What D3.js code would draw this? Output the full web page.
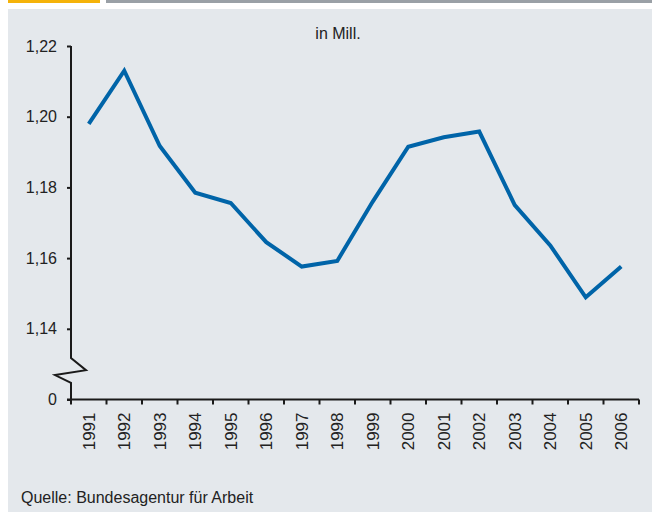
<!DOCTYPE html>
<html>
<head>
<meta charset="utf-8">
<script src="https://cdn.jsdelivr.net/npm/d3@7"></script>
<style>
  body { margin: 0; background: #fff; }
  svg { display: block; font-family: 'Liberation Sans', Arial, sans-serif; }
</style>
</head>
<body>
<svg id="chart"></svg>
<script>
const years = ['1991', '1992', '1993', '1994', '1995', '1996', '1997', '1998',
  '1999', '2000', '2001', '2002', '2003', '2004', '2005', '2006'];
const values = [1.198, 1.213, 1.1917, 1.1785, 1.1756, 1.1645, 1.1576, 1.1592,
  1.176, 1.1915, 1.1942, 1.1958, 1.175, 1.1636, 1.1489, 1.1576];
// 1.12 stands in for the broken-axis zero
const yTicks = [1.12, 1.14, 1.16, 1.18, 1.20, 1.22];
const yTickLabels = ['0', '1,14', '1,16', '1,18', '1,20', '1,22'];
const unitLabel = 'in Mill.';
const sourceLabel = 'Quelle: Bundesagentur für Arbeit';

const W = 652, H = 512;
const svg = d3.select('#chart').attr('width', W).attr('height', H);

// header bars + panel
svg.append('rect').attr('x', 8).attr('y', 0).attr('width', 92).attr('height', 3).attr('fill', '#f5b30a');
svg.append('rect').attr('x', 106).attr('y', 0).attr('width', W - 106).attr('height', 3).attr('fill', '#9aa0a6');
svg.append('rect').attr('x', 8).attr('y', 9).attr('width', W - 8).attr('height', H - 9).attr('fill', '#e4e8ec');

const x = d3.scaleBand().domain(years).range([71, 639]);
const y = d3.scaleLinear().domain([1.12, 1.22]).range([399.5, 46]);
const axisColor = '#1a1a1a';

// Y axis (ticks + labels, domain drawn by hand for the break)
const yAxis = svg.append('g')
  .attr('transform', 'translate(71,0)')
  .call(d3.axisLeft(y)
    .tickValues(yTicks)
    .tickSize(4)
    .tickPadding(10)
    .tickFormat((d, i) => yTickLabels[i]));
yAxis.select('.domain').remove();
yAxis.selectAll('line').attr('stroke', axisColor).attr('stroke-width', 2);
yAxis.selectAll('text').attr('font-size', 16).attr('fill', '#222').attr('font-family', null);

// axis line with zigzag break
const brk = d3.path();
brk.moveTo(71, y(1.22));
brk.lineTo(71, y(1.1317));
brk.lineTo(86, y(1.1283));
brk.lineTo(55, y(1.1269));
brk.lineTo(71, y(1.1247));
brk.lineTo(71, y(1.12));
svg.append('path')
  .attr('d', brk.toString())
  .attr('fill', 'none')
  .attr('stroke', axisColor)
  .attr('stroke-width', 2);

// X axis
const xAxis = svg.append('g')
  .attr('transform', 'translate(0,' + y(1.12) + ')')
  .call(d3.axisBottom(x).tickSize(0).tickPadding(0));
xAxis.select('.domain').remove();
xAxis.selectAll('text')
  .attr('font-size', 17)
  .attr('fill', '#222')
  .attr('font-family', null)
  .attr('transform', 'rotate(-90)')
  .attr('text-anchor', 'end')
  .attr('x', -13)
  .attr('y', 0)
  .attr('dy', '0.36em');

svg.append('line')
  .attr('x1', 67).attr('x2', x.range()[1])
  .attr('y1', y(1.12)).attr('y2', y(1.12))
  .attr('stroke', axisColor).attr('stroke-width', 2);

const tickPos = years.map(d => x(d)).concat([x.range()[1]]);
svg.selectAll('.xtick')
  .data(tickPos)
  .enter()
  .append('line')
  .attr('class', 'xtick')
  .attr('x1', d => d).attr('x2', d => d)
  .attr('y1', y(1.12)).attr('y2', y(1.12) + 5)
  .attr('stroke', axisColor).attr('stroke-width', 2);

// the line
svg.append('path')
  .datum(values)
  .attr('fill', 'none')
  .attr('stroke', '#0064a8')
  .attr('stroke-width', 4)
  .attr('stroke-linejoin', 'miter')
  .attr('d', d3.line()
    .x((d, i) => x(years[i]) + x.bandwidth() / 2)
    .y(d => y(d)));

// texts
svg.append('text')
  .attr('x', 338).attr('y', 39)
  .attr('text-anchor', 'middle')
  .attr('font-size', 16)
  .attr('fill', '#222')
  .text(unitLabel);

svg.append('text')
  .attr('x', 21).attr('y', 503)
  .attr('font-size', 16)
  .attr('fill', '#222')
  .text(sourceLabel);
</script>
</body>
</html>
